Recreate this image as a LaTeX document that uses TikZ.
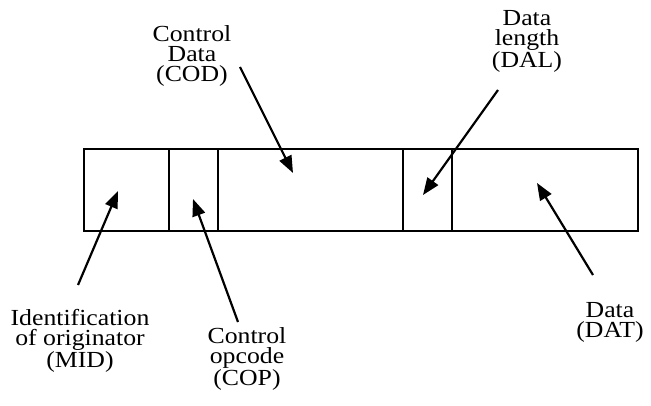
\documentclass[tikz,border=0pt]{standalone}
\usepackage{fontspec}
\setmainfont{Liberation Serif}[FakeStretch=1.12]
\usetikzlibrary{arrows.meta}
\begin{document}
\begin{tikzpicture}[x=1pt,y=-1pt,
  lbl/.style={align=center,inner sep=0pt,font=\fontsize{23}{20}\selectfont},
  field/.style={draw,line width=2.6pt},
  ptr/.style={line width=2.2pt,-{Triangle[length=17pt,width=13pt]}}]
\useasboundingbox (0,0) rectangle (651,406);
% record boxes
\draw[field] (84,149) rectangle (638,231);
\draw[field] (169,149) -- (169,231);
\draw[field] (218,149) -- (218,231);
\draw[field] (403,149) -- (403,231);
\draw[field] (452,149) -- (452,231);
% labels
\node[lbl] (cod) at (192,56) {Control\\Data\\(COD)};
\node[lbl] (dal) at (527,41) {Data\\length\\(DAL)};
\node[lbl] (mid) at (80,341) {Identification\\of originator\\(MID)};
\node[lbl] (cop) at (247,359) {Control\\opcode\\(COP)};
\node[lbl] (dat) at (610,322) {Data\\(DAT)};
% arrow ends
\coordinate (midT) at (78,285);   \coordinate (midH) at (118,191);
\coordinate (copT) at (238,322);  \coordinate (copH) at (193,199);
\coordinate (codT) at (240,67);   \coordinate (codH) at (293,173);
\coordinate (dalT) at (498,90);   \coordinate (dalH) at (423,195);
\coordinate (datT) at (593,275);  \coordinate (datH) at (537,183);
\draw[ptr] (midT) -- (midH);
\draw[ptr] (copT) -- (copH);
\draw[ptr] (codT) -- (codH);
\draw[ptr] (dalT) -- (dalH);
\draw[ptr] (datT) -- (datH);
\end{tikzpicture}
\end{document}
